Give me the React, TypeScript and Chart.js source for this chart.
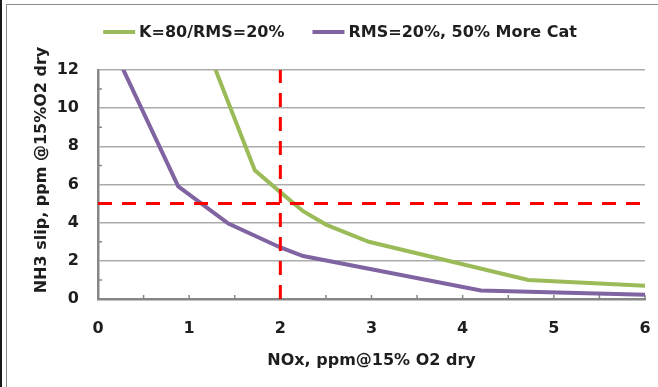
import React, { useEffect, useRef } from "react";
import { Chart, registerables } from "chart.js";

Chart.register(...registerables);

// ---- data ----
const seriesNames = ["K=80/RMS=20%", "RMS=20%, 50% More Cat"];
const greenX = [1.2, 1.72, 2.0, 2.25, 2.5, 2.97, 4.72, 6.0];
const greenY = [13.1, 6.75, 5.6, 4.6, 3.9, 3.0, 1.0, 0.7];
const purpleX = [0.2, 0.88, 1.43, 2.0, 2.25, 4.2, 6.0];
const purpleY = [12.8, 5.9, 3.95, 2.7, 2.25, 0.45, 0.22];
const limitNOx = 2;
const limitSlip = 5;
const xRange = [0, 6];
const yRange = [0, 12];
const xTitle = "NOx, ppm@15% O2 dry";
const yTitle = "NH3 slip, ppm @15%O2 dry";

// ---- style ----
const GREEN = "#9BBB59";
const PURPLE = "#8064A2";
const RED = "#FF0000";
const AXIS = "#868686";
const GRID = "#ababab";
const TEXT = "#1e1e1e";
const FAMILY = '"DejaVu Sans"';
const FONT = `bold 16px ${FAMILY}`;

const decor = {
  id: "decor",
  beforeDraw(chart: any) {
    const ctx = chart.ctx;
    ctx.save();
    ctx.fillStyle = "#ffffff";
    ctx.fillRect(0, 0, chart.width, chart.height);
    ctx.fillStyle = "#1a1a1a";
    ctx.fillRect(0, 0, 2, chart.height);
    ctx.strokeStyle = "#8c8c8c";
    ctx.lineWidth = 1;
    ctx.beginPath();
    ctx.moveTo(6.5, 4);
    ctx.lineTo(6.5, chart.height);
    ctx.moveTo(6, 4.5);
    ctx.lineTo(chart.width, 4.5);
    ctx.stroke();
    ctx.restore();
  },
  beforeDatasetsDraw(chart: any) {
    const { ctx, chartArea, scales } = chart;
    const xs = scales.x;
    const ys = scales.y;
    ctx.save();
    ctx.strokeStyle = AXIS;
    ctx.lineWidth = 1.5;
    ctx.beginPath();
    for (let v = xs.min + 0.5; v <= xs.max + 1e-9; v += 0.5) {
      const px = xs.getPixelForValue(v);
      ctx.moveTo(px, chartArea.bottom);
      ctx.lineTo(px, chartArea.bottom - 4);
    }
    for (let v = ys.min + 1; v <= ys.max; v += 2) {
      const py = ys.getPixelForValue(v);
      ctx.moveTo(chartArea.left, py);
      ctx.lineTo(chartArea.left + 4, py);
    }
    ctx.stroke();
    ctx.restore();
  },
  afterDraw(chart: any) {
    const ctx = chart.ctx;
    ctx.save();
    ctx.font = FONT;
    ctx.fillStyle = TEXT;
    ctx.textBaseline = "middle";
    // legend
    const items = chart.data.datasets.filter((d: any) => seriesNames.includes(d.label));
    const lineLen = 32;
    const gap = 4;
    const spacing = 28;
    const widths = items.map((d: any) => ctx.measureText(d.label).width);
    const total =
      items.reduce((s: number, _d: any, i: number) => s + lineLen + gap + widths[i], 0) +
      spacing * (items.length - 1);
    let x = 340 - total / 2;
    const ly = 32;
    items.forEach((d: any, i: number) => {
      ctx.strokeStyle = d.borderColor;
      ctx.lineWidth = 4;
      ctx.beginPath();
      ctx.moveTo(x, ly);
      ctx.lineTo(x + lineLen, ly);
      ctx.stroke();
      x += lineLen + gap;
      ctx.textAlign = "left";
      ctx.fillText(d.label, x, ly + 1);
      x += widths[i] + spacing;
    });
    // y title
    ctx.translate(42, 170);
    ctx.rotate(-Math.PI / 2);
    ctx.textAlign = "center";
    ctx.fillText(yTitle, 0, 0);
    ctx.restore();
  },
};

export default function App() {
  const ref = useRef<HTMLCanvasElement | null>(null);
  useEffect(() => {
    if (!ref.current) return;
    const tickFont = { family: FAMILY, size: 16, weight: "bold" as const };
    const chart = new Chart(ref.current, {
      type: "scatter",
      data: {
        datasets: [
          {
            label: "limitSlip",
            data: [
              { x: xRange[0], y: limitSlip },
              { x: xRange[1], y: limitSlip },
            ],
            borderColor: RED,
            borderWidth: 3,
            borderDash: [14, 10],
            showLine: true,
            pointRadius: 0,
            order: 0,
          },
          {
            label: "limitNOx",
            data: [
              { x: limitNOx, y: yRange[0] },
              { x: limitNOx, y: yRange[1] },
            ],
            borderColor: RED,
            borderWidth: 3,
            borderDash: [14, 10],
            showLine: true,
            pointRadius: 0,
            order: 0,
          },
          {
            label: seriesNames[0],
            data: greenX.map((x, i) => ({ x, y: greenY[i] })),
            borderColor: GREEN,
            backgroundColor: GREEN,
            borderWidth: 4,
            showLine: true,
            pointRadius: 0,
            tension: 0,
            order: 1,
          },
          {
            label: seriesNames[1],
            data: purpleX.map((x, i) => ({ x, y: purpleY[i] })),
            borderColor: PURPLE,
            backgroundColor: PURPLE,
            borderWidth: 4,
            showLine: true,
            pointRadius: 0,
            tension: 0,
            order: 1,
          },
        ],
      },
      options: {
        animation: false,
        responsive: false,
        devicePixelRatio: 1,
        layout: { padding: { left: 0, right: 13, top: 70, bottom: 8 } },
        plugins: { legend: { display: false }, tooltip: { enabled: false } },
        scales: {
          x: {
            type: "linear",
            min: xRange[0],
            max: xRange[1],
            afterFit: (s: any) => {
              s.height = 80;
              s.paddingLeft = 0;
              s.paddingRight = 0;
            },
            ticks: { stepSize: 1, font: tickFont, color: TEXT, padding: 20, maxRotation: 0 },
            grid: { display: false, drawTicks: false },
            border: { color: AXIS, width: 2.5 },
            title: {
              display: true,
              text: xTitle,
              font: tickFont,
              color: TEXT,
              padding: { top: 0, bottom: 9 },
            },
          },
          y: {
            type: "linear",
            min: yRange[0],
            max: yRange[1],
            afterFit: (s: any) => {
              s.width = 98;
            },
            ticks: { stepSize: 2, font: tickFont, color: TEXT, padding: 19 },
            grid: { color: GRID, lineWidth: 1.5, drawTicks: false },
            border: { color: AXIS, width: 2.5 },
          },
        },
      },
      plugins: [decor],
    });
    return () => chart.destroy();
  }, []);
  return (
    <div style={{ position: "absolute", left: 0, top: 0, width: 658, height: 387 }}>
      <canvas ref={ref} width={658} height={387} style={{ display: "block" }} />
    </div>
  );
}
